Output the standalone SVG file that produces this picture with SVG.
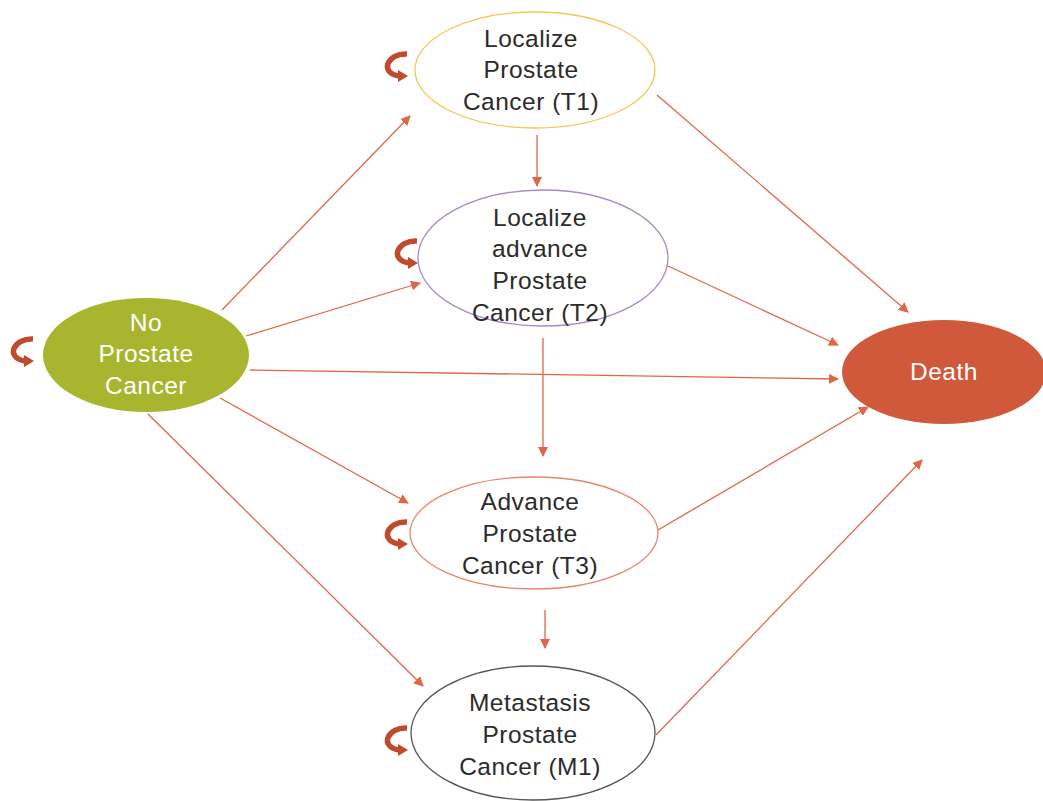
<svg xmlns="http://www.w3.org/2000/svg" width="1043" height="801" viewBox="0 0 1043 801">
<style>
.t{font-family:"Liberation Sans",Arial,sans-serif;font-size:24.5px;letter-spacing:0.5px;text-anchor:middle;fill:#2b2b2b}
.w{fill:#ffffff}
.c{stroke:#e0664a;stroke-width:1.3;fill:none;marker-end:url(#ah)}
.loop{fill:none;stroke:#bf4a2e;stroke-width:5.5;stroke-linecap:butt}
.lh{fill:#bf4a2e}
</style>
<defs>
<marker id="ah" viewBox="0 0 10 10" refX="9" refY="5" markerWidth="10" markerHeight="10" markerUnits="userSpaceOnUse" orient="auto">
<path d="M0,0 L10,5 L0,10 Z" fill="#e0664a"/>
</marker>
<g id="sl">
<path class="loop" d="M24,3 C4,2 -4,22 16,25"/>
<path class="lh" d="M15,19 L25,25 L15,31 Z"/>
</g>
</defs>
<rect width="1043" height="801" fill="#ffffff"/>
<g id="connectors">
<line class="c" x1="222" y1="310" x2="410" y2="116"/>
<line class="c" x1="246" y1="336" x2="420" y2="283"/>
<line class="c" x1="250" y1="370" x2="838" y2="379"/>
<line class="c" x1="220" y1="398" x2="408" y2="503"/>
<line class="c" x1="148" y1="414" x2="423" y2="686"/>
<line class="c" x1="537" y1="135" x2="537" y2="186"/>
<line class="c" x1="657" y1="95" x2="908" y2="312"/>
<line class="c" x1="668" y1="266" x2="838" y2="345"/>
<line class="c" x1="543" y1="338" x2="543" y2="456"/>
<line class="c" x1="658" y1="530" x2="868" y2="407"/>
<line class="c" x1="545" y1="610" x2="545" y2="648"/>
<line class="c" x1="656" y1="735" x2="922" y2="460"/>
<use href="#sl" x="383" y="51"/>
<use href="#sl" x="393" y="238"/>
<use href="#sl" x="9" y="336"/>
<use href="#sl" x="383" y="519"/>
<use href="#sl" x="383" y="725"/>
</g>
<g id="t1">
<ellipse cx="535" cy="70" rx="120" ry="58" fill="#ffffff" stroke="#f6c654" stroke-width="1.3"/>
<text class="t" x="531" y="47">Localize</text>
<text class="t" x="531" y="78">Prostate</text>
<text class="t" x="531" y="110">Cancer (T1)</text>
</g>
<g id="t2">
<ellipse cx="543" cy="258" rx="125" ry="68" fill="#ffffff" stroke="#a88bc2" stroke-width="1.3"/>
<text class="t" x="540" y="226">Localize</text>
<text class="t" x="540" y="257">advance</text>
<text class="t" x="540" y="289">Prostate</text>
<text class="t" x="540" y="321">Cancer (T2)</text>
</g>
<g id="none">
<ellipse cx="146" cy="355" rx="103" ry="57" fill="#a9b52f"/>
<text class="t w" x="146" y="331">No</text>
<text class="t w" x="146" y="362">Prostate</text>
<text class="t w" x="146" y="394">Cancer</text>
</g>
<g id="death">
<ellipse cx="944" cy="372" rx="102" ry="52" fill="#d0593c"/>
<text class="t w" x="944" y="380">Death</text>
</g>
<g id="t3">
<ellipse cx="534" cy="533" rx="124" ry="56" fill="#ffffff" stroke="#e8846c" stroke-width="1.3"/>
<text class="t" x="530" y="510">Advance</text>
<text class="t" x="530" y="542">Prostate</text>
<text class="t" x="530" y="574">Cancer (T3)</text>
</g>
<g id="m1">
<ellipse cx="533" cy="733" rx="122" ry="67" fill="#ffffff" stroke="#555555" stroke-width="1.3"/>
<text class="t" x="530" y="711">Metastasis</text>
<text class="t" x="530" y="743">Prostate</text>
<text class="t" x="530" y="775">Cancer (M1)</text>
</g>
</svg>
